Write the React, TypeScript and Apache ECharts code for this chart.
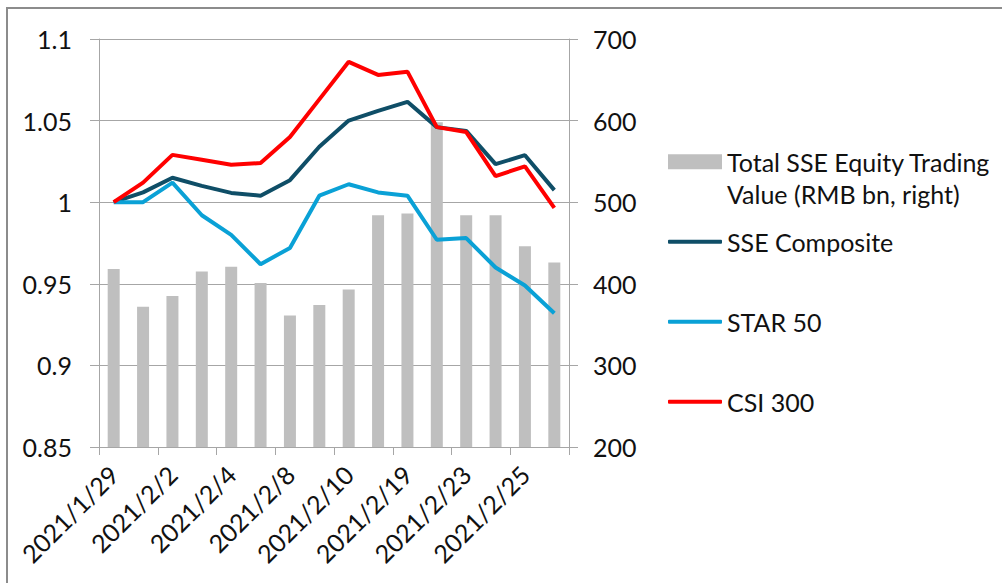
import React, { useEffect, useRef } from "react";
import * as echarts from "echarts";

const categories = [
  "2021/1/29", "2021/2/1", "2021/2/2", "2021/2/3", "2021/2/4", "2021/2/5",
  "2021/2/8", "2021/2/9", "2021/2/10", "2021/2/18", "2021/2/19", "2021/2/22",
  "2021/2/23", "2021/2/24", "2021/2/25", "2021/2/26",
];
const tradingValue = [418, 372, 385, 415, 421, 401, 361, 374, 393, 484, 486, 598, 484, 484, 446, 426];
const sseComposite = [1.0, 1.006, 1.015, 1.01, 1.0057, 1.004, 1.0135, 1.034, 1.05, 1.056, 1.0615, 1.046, 1.0437, 1.0233, 1.0288, 1.0074];
const star50 = [1.0, 1.0, 1.012, 0.992, 0.98, 0.962, 0.972, 1.004, 1.011, 1.006, 1.004, 0.977, 0.978, 0.96, 0.949, 0.932];
const csi300 = [1.0, 1.012, 1.029, 1.026, 1.023, 1.024, 1.04, 1.063, 1.086, 1.078, 1.08, 1.046, 1.043, 1.016, 1.022, 0.9965];

const BAR_NAME = "Total SSE Equity Trading Value (RMB bn, right)";
const FONT = "Lato";
const FS = 25;
const GRID_COLOR = "#a6a6a6";
const TEXT_COLOR = "#111";

export default function App() {
  const ref = useRef<HTMLDivElement>(null);
  useEffect(() => {
    if (!ref.current) return;
    const chart = echarts.init(ref.current, null, { renderer: "svg" });
    const lineLegend = (name: string, centerY: number) => ({
      data: [{ name, icon: "roundRect" }],
      orient: "vertical",
      left: 668,
      top: centerY - 15,
      padding: 0,
      itemWidth: 54,
      itemHeight: 4,
      itemGap: 0,
      textStyle: { fontFamily: FONT, fontSize: FS, color: TEXT_COLOR, lineHeight: 30 },
    });
    chart.setOption({
      animation: false,
      backgroundColor: "#fff",
      textStyle: { fontFamily: FONT },
      graphic: [
        {
          type: "rect",
          shape: { x: 7, y: 8, width: 1200, height: 800 },
          style: { fill: "none", stroke: "#8c8c8c", lineWidth: 2 },
          silent: true,
        },
      ],
      grid: { left: 99, right: 433, top: 39, bottom: 136, containLabel: false },
      legend: [
        {
          data: [{ name: BAR_NAME, icon: "rect" }],
          left: 668,
          top: 161.7 - 48,
          padding: 0,
          itemWidth: 54,
          itemHeight: 15,
          formatter: () => "\nTotal SSE Equity Trading\nValue (RMB bn, right)",
          textStyle: {
            fontFamily: FONT,
            fontSize: FS,
            color: TEXT_COLOR,
            lineHeight: 32,
          },
        },
        lineLegend("SSE Composite", 241.7),
        lineLegend("STAR 50", 321.7),
        lineLegend("CSI 300", 401.7),
      ],
      xAxis: {
        type: "category",
        data: categories,
        boundaryGap: true,
        axisLine: { show: true, lineStyle: { color: GRID_COLOR, width: 1 } },
        axisTick: { show: true, interval: 1, length: 8, alignWithLabel: false, lineStyle: { color: GRID_COLOR } },
        axisLabel: {
          interval: 1,
          rotate: 45,
          margin: 23,
          padding: [48, 0, 0, 0],
          fontFamily: FONT,
          fontSize: FS,
          color: TEXT_COLOR,
        },
      },
      yAxis: [
        {
          type: "value",
          min: 0.85,
          max: 1.1,
          interval: 0.05,
          axisLine: { show: true, lineStyle: { color: GRID_COLOR } },
          axisTick: { show: true, length: 9, lineStyle: { color: GRID_COLOR } },
          splitLine: { show: true, lineStyle: { color: GRID_COLOR, width: 1 } },
          axisLabel: {
            margin: 27,
            fontFamily: FONT,
            fontSize: FS,
            color: TEXT_COLOR,
            formatter: (v: number) => String(parseFloat(v.toFixed(2))),
          },
        },
        {
          type: "value",
          min: 200,
          max: 700,
          interval: 100,
          position: "right",
          axisLine: { show: true, lineStyle: { color: GRID_COLOR } },
          axisTick: { show: true, length: 9, lineStyle: { color: GRID_COLOR } },
          splitLine: { show: false },
          axisLabel: { margin: 24, fontFamily: FONT, fontSize: FS, color: TEXT_COLOR },
        },
      ],
      series: [
        {
          name: BAR_NAME,
          type: "bar",
          yAxisIndex: 1,
          data: tradingValue,
          barWidth: 12,
          itemStyle: { color: "#bfbfbf" },
        },
        {
          name: "SSE Composite",
          type: "line",
          data: sseComposite,
          symbol: "none",
          lineStyle: { color: "#0f4e67", width: 4 },
          itemStyle: { color: "#0f4e67" },
        },
        {
          name: "STAR 50",
          type: "line",
          data: star50,
          symbol: "none",
          lineStyle: { color: "#0aa1d6", width: 4 },
          itemStyle: { color: "#0aa1d6" },
        },
        {
          name: "CSI 300",
          type: "line",
          data: csi300,
          symbol: "none",
          lineStyle: { color: "#ff0000", width: 4 },
          itemStyle: { color: "#ff0000" },
        },
      ],
    });
    return () => chart.dispose();
  }, []);
  return (
    <div
      ref={ref}
      style={{ position: "absolute", left: 0, top: 0, width: 1002, height: 583 }}
    />
  );
}
